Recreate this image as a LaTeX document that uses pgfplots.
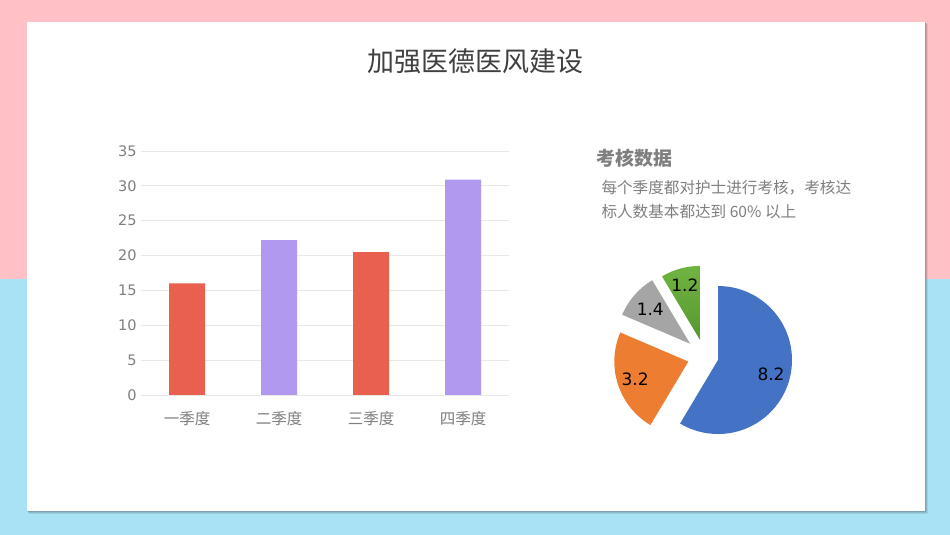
\documentclass[border=0pt]{standalone}
\usepackage{pgfplots}
\pgfplotsset{compat=1.18}
\usepackage{fontspec}
\setmainfont{Noto Sans CJK SC}
\newfontfamily\numfont{DejaVu Sans}

\definecolor{pinkbg}{RGB}{255,193,197}
\definecolor{bluebg}{RGB}{169,226,245}
\definecolor{barred}{RGB}{233,97,78}
\definecolor{barpurple}{RGB}{177,153,240}
\definecolor{ticktext}{RGB}{127,127,127}
\definecolor{gridgray}{RGB}{232,232,232}
\definecolor{titlegray}{RGB}{64,64,64}
\definecolor{pieblue}{RGB}{68,114,196}
\definecolor{pieorange}{RGB}{237,125,49}
\definecolor{piegray}{RGB}{165,165,165}
\definecolor{piegreenA}{RGB}{112,180,64}
\definecolor{piegreenB}{RGB}{80,145,45}

% pie values: 8.2, 3.2, 1.4, 1.2 (clockwise from top)
\def\pA{8.2}\def\pB{3.2}\def\pC{1.4}\def\pD{1.2}
\pgfmathsetmacro\ptot{\pA+\pB+\pC+\pD}
\pgfmathsetmacro\aA{90-\pA/\ptot*360}
\pgfmathsetmacro\aB{\aA-\pB/\ptot*360}
\pgfmathsetmacro\aC{\aB-\pC/\ptot*360}
\pgfmathsetmacro\aD{\aC-\pD/\ptot*360}
\pgfmathsetmacro\mA{(90+\aA)/2}
\pgfmathsetmacro\mB{(\aA+\aB)/2}
\pgfmathsetmacro\mC{(\aB+\aC)/2}
\pgfmathsetmacro\mD{(\aC+\aD)/2}
\def\pr{74bp}

\begin{document}
\begin{tikzpicture}[x=1bp,y=1bp]
% background
\fill[pinkbg] (0,256) rectangle (950,535);
\fill[bluebg] (0,0) rectangle (950,256);
% card shadow
\fill[black,opacity=0.08] (29,21) rectangle (928,511);
\fill[black,opacity=0.10] (28,22) rectangle (927,512);
\fill[black,opacity=0.12] (27,23) rectangle (926,513);
\fill[white] (27,24) rectangle (925,513);

% title
\node[text=titlegray,font=\fontsize{27bp}{32bp}\selectfont] at (475,474) {加强医德医风建设};

\coordinate (barsw) at (141,140);
\coordinate (piesw) at (604.5,78.7);

% bar chart
\begin{axis}[
    at={(barsw)}, anchor=south west,
    scale only axis, width=368bp, height=244bp,
    xmin=-0.5, xmax=3.5, ymin=0, ymax=35,
    ytick={0,5,...,35},
    xtick={0,1,2,3},
    xticklabels={一季度,二季度,三季度,四季度},
    axis line style={draw=none},
    major tick length=0pt,
    ymajorgrids, grid style={gridgray,line width=0.8bp},
    tick label style={text=ticktext},
    yticklabel style={font=\numfont\fontsize{14.5bp}{17bp}\selectfont,xshift=-1bp},
    xticklabel style={font=\fontsize{15.5bp}{18bp}\selectfont,yshift=-13bp},
    /pgf/number format/assume math mode=true,
    clip=false,
]
\addplot[ybar,bar width=36bp,bar shift=0pt,fill=barred,draw=none] coordinates {(0,16) (2,20.5)};
\addplot[ybar,bar width=36bp,bar shift=0pt,fill=barpurple,draw=none] coordinates {(1,22.2) (3,30.9)};
\end{axis}

% side text
\node[anchor=west,text=ticktext,font=\bfseries\fontsize{19bp}{22bp}\selectfont] at (593,377) {考核数据};
\node[anchor=west,text=ticktext,font=\fontsize{15.6bp}{18bp}\selectfont] at (598,347) {每个季度都对护士进行考核，考核达};
\node[anchor=west,text=ticktext,font=\fontsize{15.6bp}{18bp}\selectfont] at (598,323) {标人数基本都达到 60\% 以上};

% pie
\begin{axis}[
    at={(piesw)}, anchor=south west,
    scale only axis, width=200bp, height=200bp,
    xmin=-100, xmax=100, ymin=-100, ymax=100,
    hide axis, clip=false,
]
\fill[pieblue] (axis cs:0,0) ++(\mA:14bp) -- ++(90:\pr) arc[start angle=90, end angle=\aA, radius=\pr] -- cycle;
\fill[pieorange] (axis cs:0,0) ++(\mB:17bp) -- ++(\aA:\pr) arc[start angle=\aA, end angle=\aB, radius=\pr] -- cycle;
\fill[piegray] (axis cs:0,0) ++(\mC:19bp) -- ++(\aB:\pr) arc[start angle=\aB, end angle=\aC, radius=\pr] -- cycle;
\shade[top color=piegreenA,bottom color=piegreenB] (axis cs:0,0) ++(\mD:17bp) -- ++(\aC:\pr) arc[start angle=\aC, end angle=\aD, radius=\pr] -- cycle;
\path[font=\numfont\fontsize{17bp}{20bp}\selectfont]
  (axis cs:0,0) ++(\mA:14bp) ++(\mA:55bp) node {\pA}
  (axis cs:0,0) ++(\mB:17bp) ++(\mB:56bp) node {\pB}
  (axis cs:0,0) ++(\mC:19bp) ++(\mC:53bp) node {\pC}
  (axis cs:0,0) ++(\mD:17bp) ++(\mD:57bp) node {\pD};
\end{axis}
\end{tikzpicture}
\end{document}
